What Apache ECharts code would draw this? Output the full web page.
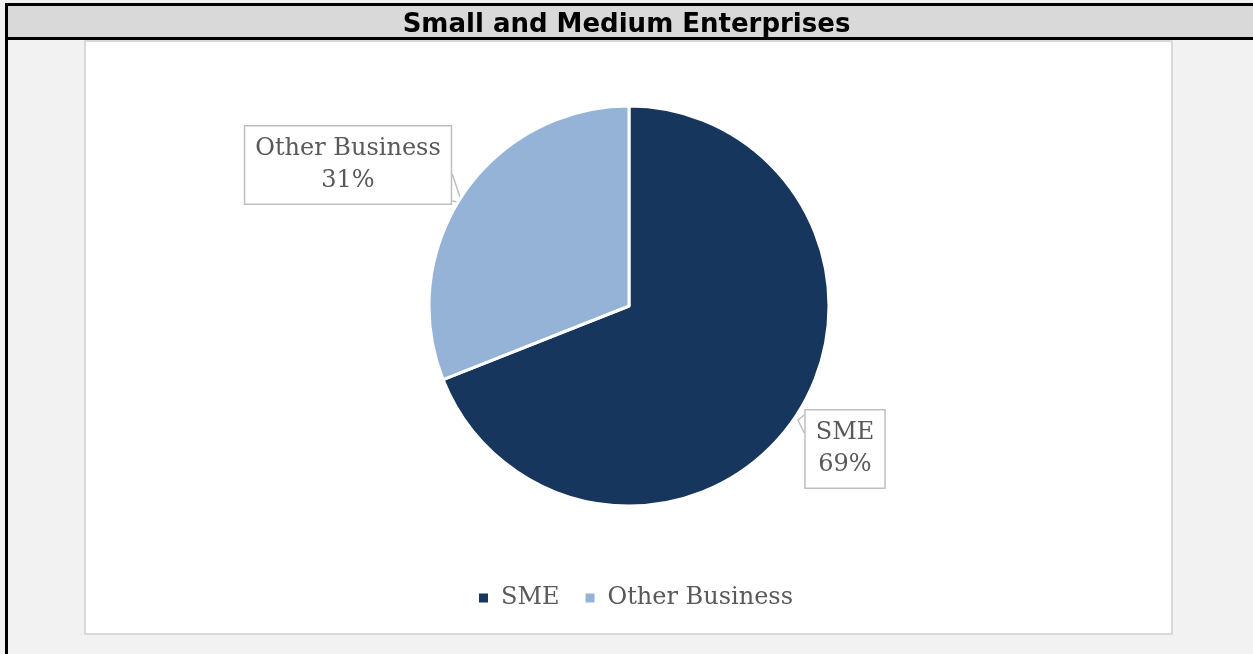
<!DOCTYPE html>
<html>
<head>
<meta charset="utf-8">
<script src="https://cdn.jsdelivr.net/npm/echarts@6/dist/echarts.min.js"></script>
<style>
  html, body { margin: 0; padding: 0; background: #f2f2f2; }
  #chart { width: 1253px; height: 654px; }
</style>
</head>
<body>
<div id="chart"></div>
<script>
// Share of enterprises by type
const categories = ['SME', 'Other Business'];
const shares = [69, 31];
const colors = ['#17365d', '#95b3d7'];
const titleText = 'Small and Medium Enterprises';

const chart = echarts.init(document.getElementById('chart'), null, { renderer: 'canvas' });

const serif = '"DejaVu Serif", "Liberation Serif", serif';
const textColor = '#595959';

// Callout box placements (centre of each label box)
const calloutPos = {
  'SME': { x: 845, y: 449 },
  'Other Business': { x: 348, y: 165 }
};

chart.setOption({
  backgroundColor: '#f2f2f2',
  animation: false,
  graphic: [
    // white plot panel
    { type: 'rect', shape: { x: 85, y: 41, width: 1087, height: 593 },
      style: { fill: '#ffffff', stroke: '#d9d9d9', lineWidth: 2 }, z: 0 },
    // header band
    { type: 'rect', shape: { x: 6, y: 4, width: 1260, height: 35 },
      style: { fill: '#d9d9d9' }, z: 0 },
    { type: 'rect', shape: { x: 5, y: 3, width: 1260, height: 3 },
      style: { fill: '#000000' }, z: 1 },
    { type: 'rect', shape: { x: 5, y: 37, width: 1260, height: 3 },
      style: { fill: '#000000' }, z: 1 },
    { type: 'rect', shape: { x: 5, y: 3, width: 3, height: 660 },
      style: { fill: '#000000' }, z: 1 }
  ],
  title: {
    text: titleText,
    left: 'center',
    top: 7,
    textStyle: {
      fontFamily: '"DejaVu Sans", Verdana, sans-serif',
      fontWeight: 'bold',
      fontSize: 26,
      color: '#000000'
    }
  },
  legend: {
    data: categories,
    bottom: 39,
    left: 472,
    icon: 'rect',
    itemWidth: 11,
    itemHeight: 11,
    itemGap: 24,
    textStyle: { fontFamily: serif, fontSize: 24, color: textColor, padding: [4, 0, 0, 7] }
  },
  series: [{
    type: 'pie',
    center: [629, 306],
    radius: [0, 200],
    startAngle: 90,
    clockwise: true,
    itemStyle: { borderColor: '#ffffff', borderWidth: 3 },
    emphasis: { disabled: true },
    data: categories.map((name, i) => ({
      name: name,
      value: shares[i],
      itemStyle: { color: colors[i] }
    })),
    label: {
      show: true,
      formatter: '{b}\n{d}%',
      fontFamily: serif,
      fontSize: 24,
      lineHeight: 32,
      color: textColor,
      align: 'center',
      backgroundColor: '#ffffff',
      borderColor: '#bfbfbf',
      borderWidth: 1.5,
      padding: [9, 10, 4, 10]
    },
    labelLine: {
      show: true,
      lineStyle: { color: '#bfbfbf', width: 1.5 }
    },
    labelLayout: function (params) {
      const name = categories[params.dataIndex];
      const pos = calloutPos[name];
      const r = params.labelRect;
      const left = pos.x - r.width / 2;
      const right = pos.x + r.width / 2;
      const top = pos.y - r.height / 2;
      const bottom = pos.y + r.height / 2;
      // callout pointer: edge -> tip -> edge
      let linePts;
      if (name === 'SME') {
        linePts = [[left, top + 6], [798, 420], [left, top + 24]];
      } else {
        linePts = [[right, bottom - 31], [462, 203], [right, bottom - 4]];
      }
      return {
        x: pos.x,
        y: pos.y,
        verticalAlign: 'middle',
        align: 'center',
        labelLinePoints: linePts
      };
    }
  }]
});
</script>
</body>
</html>
